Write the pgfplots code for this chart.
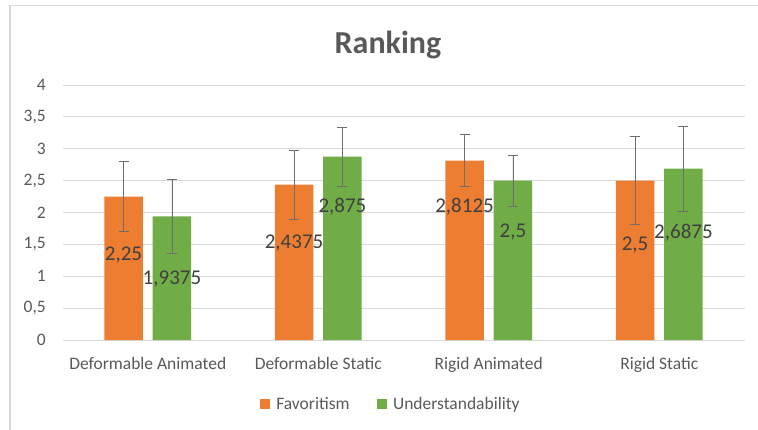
\documentclass[border=0pt]{standalone}
\usepackage{pgfplots}
\pgfplotsset{compat=1.18}
\usepackage{pgfplotstable}
\usepackage{fontspec}
\setmainfont{Carlito}

\definecolor{favorange}{HTML}{ED7D31}
\definecolor{undgreen}{HTML}{70AD47}
\definecolor{gridgray}{HTML}{D9D9D9}
\definecolor{txtgray}{HTML}{595959}
\definecolor{lblgray}{HTML}{404040}
\definecolor{errgray}{HTML}{6E6E6E}

% mean, error and label height per category
\pgfplotstableread{
x fav faverr favlab und underr undlab
0 2.25   0.555 1.34 1.9375 0.58  0.96
1 2.4375 0.54  1.52 2.875  0.46  2.09
2 2.8125 0.41  2.09 2.5    0.40  1.69
3 2.5    0.69  1.49 2.6875 0.665 1.68
}\ranking

\begin{document}
\begin{tikzpicture}
\path[use as bounding box] (-62.5bp,-90bp) rectangle (695.5bp,340bp);
\draw[gridgray, line width=1.2bp] (-52.5bp,-90bp) -- (-52.5bp,334.5bp) -- (695.5bp,334.5bp);
\begin{axis}[
  at={(0,0)}, anchor=south west,
  scale only axis,
  width=682bp, height=255bp,
  xmin=-0.5, xmax=3.5, ymin=0, ymax=4,
  xtick={0,1,2,3},
  xticklabels={Deformable Animated, Deformable Static, Rigid Animated, Rigid Static},
  ytick={0,0.5,...,4},
  ymajorgrids, grid style={gridgray, line width=0.8bp},
  axis x line*=bottom, axis y line*=left,
  x axis line style={gridgray, line width=0.8bp},
  y axis line style={draw=none},
  tick style={draw=none},
  /pgf/number format/.cd, use comma, precision=4, assume math mode=true, /pgfplots/.cd,
  ticklabel style={font=\fontsize{17.5bp}{21bp}\selectfont, text=txtgray},
  yticklabel style={inner sep=0pt, anchor=east, xshift=-16.5bp},
  xticklabel style={inner sep=0pt, anchor=north, yshift=-17bp},
  legend style={draw=none, fill=none, at={(0.485,-0.251)}, anchor=center,
    legend columns=2, font=\fontsize{17.5bp}{21bp}\selectfont, text=txtgray,
    nodes={inner xsep=7bp},
    /tikz/every even column/.append style={column sep=20bp}},
]
\addplot[ybar, bar width=38.5bp, bar shift=0bp, fill=favorange, draw=none, forget plot,
  error bars/.cd, y dir=both, y explicit,
  error bar style={errgray, line width=0.9bp},
  error mark options={rotate=90, mark size=5bp, errgray, line width=0.9bp}]
  table[x expr=\thisrow{x}-0.142, y=fav, y error=faverr] {\ranking};
\addplot[ybar, bar width=38.5bp, bar shift=0bp, fill=undgreen, draw=none, forget plot,
  error bars/.cd, y dir=both, y explicit,
  error bar style={errgray, line width=0.9bp},
  error mark options={rotate=90, mark size=5bp, errgray, line width=0.9bp}]
  table[x expr=\thisrow{x}+0.142, y=und, y error=underr] {\ranking};
% data labels
\addplot[draw=none, mark=none, forget plot, nodes near coords, point meta=explicit,
  nodes near coords style={anchor=center, inner sep=0pt, text=lblgray,
    font=\fontsize{21bp}{25bp}\selectfont}]
  table[x expr=\thisrow{x}-0.142, y=favlab, meta=fav] {\ranking};
\addplot[draw=none, mark=none, forget plot, nodes near coords, point meta=explicit,
  nodes near coords style={anchor=center, inner sep=0pt, text=lblgray,
    font=\fontsize{21bp}{25bp}\selectfont}]
  table[x expr=\thisrow{x}+0.142, y=undlab, meta=und] {\ranking};
\addlegendimage{legend image code/.code={\fill[favorange] (0bp,-4.5bp) rectangle (9bp,4.5bp);}}
\addlegendentry{Favoritism}
\addlegendimage{legend image code/.code={\fill[undgreen] (0bp,-4.5bp) rectangle (9bp,4.5bp);}}
\addlegendentry{Understandability}
\end{axis}
\node[font=\bfseries\fontsize{32bp}{38bp}\selectfont, text=txtgray] at (325.5bp,295bp) {Ranking};
\end{tikzpicture}
\end{document}
